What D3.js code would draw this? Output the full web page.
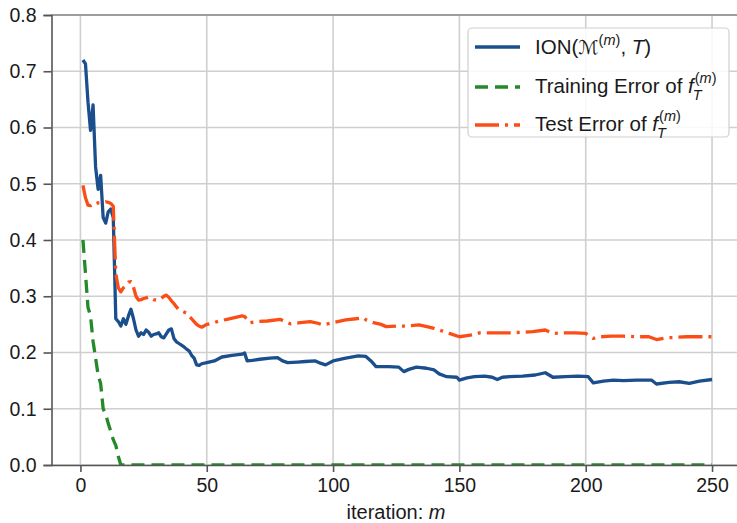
<!DOCTYPE html>
<html><head><meta charset="utf-8">
<script src="https://cdn.jsdelivr.net/npm/d3@7"></script>
<style>
body{margin:0;background:#fff;}
svg{display:block;}
text{font-family:"Liberation Sans",Arial,sans-serif;fill:#1a1a1a;}
</style>
</head><body>
<svg id="c" width="737" height="523"></svg>
<script>
// ---- data ----
const ionIter = [1,2,3,4,5,6,7,8,9,10,11,12,13,14,15,16,17,18,19,20,21,22,23,24,25,26,27,28,29,30,31,32,33,34,35,36,37,38,39,40,41,42,43,44,45,46,47,48,50,53,56,60,64,65,66,68,71,75,78,80,82,86,89,93,95,97,100,105,110,113,115,117,122,126,128,130,133,137,140,142,145,149,150,153,156,160,163,165,167,170,175,180,184,187,192,197,201,203,207,211,215,220,226,228,233,237,241,245,250];
const ionVal = [0.72,0.713,0.645,0.595,0.64,0.53,0.49,0.515,0.44,0.43,0.45,0.455,0.44,0.26,0.255,0.247,0.26,0.25,0.265,0.277,0.26,0.24,0.229,0.235,0.232,0.24,0.236,0.229,0.232,0.233,0.235,0.228,0.226,0.233,0.24,0.242,0.225,0.219,0.216,0.213,0.21,0.206,0.203,0.195,0.19,0.178,0.177,0.18,0.182,0.185,0.192,0.195,0.197,0.199,0.185,0.186,0.188,0.19,0.191,0.185,0.182,0.183,0.184,0.185,0.181,0.178,0.185,0.19,0.194,0.193,0.185,0.175,0.175,0.174,0.166,0.17,0.174,0.172,0.169,0.162,0.157,0.156,0.151,0.155,0.157,0.158,0.156,0.152,0.156,0.157,0.158,0.16,0.164,0.156,0.157,0.158,0.157,0.146,0.149,0.151,0.15,0.151,0.151,0.144,0.147,0.148,0.145,0.149,0.152];

const trainIter = [1,2,3,4,5,6,7,8,9,10,11,12,13,14,15,16,250];
const trainVal = [0.40,0.34,0.28,0.265,0.22,0.19,0.16,0.145,0.10,0.09,0.074,0.06,0.045,0.035,0.015,0.0,0.0];

const testIter = [1,2,3,4,5,6,7,8,9,10,11,12,13,14,15,16,17,18,19,20,21,22,23,24,25,26,27,28,29,30,31,32,33,34,35,36,37,38,39,40,41,42,43,44,45,46,47,48,50,52,55,58,61,64,65,67,70,74,79,81,83,87,91,94,96,100,105,109,112,113,116,119,121,125,128,134,138,140,142,146,150,153,156,158,163,170,175,179,184,187,192,196,200,203,206,210,215,221,225,228,232,236,240,245,250];
const testVal = [0.497,0.475,0.462,0.461,0.465,0.464,0.466,0.466,0.467,0.468,0.467,0.465,0.46,0.34,0.315,0.308,0.315,0.32,0.325,0.326,0.316,0.30,0.293,0.294,0.296,0.297,0.299,0.296,0.294,0.293,0.293,0.296,0.30,0.302,0.298,0.292,0.287,0.281,0.276,0.274,0.272,0.27,0.264,0.26,0.255,0.25,0.247,0.245,0.25,0.252,0.256,0.259,0.262,0.265,0.264,0.253,0.255,0.256,0.259,0.255,0.251,0.253,0.255,0.252,0.249,0.253,0.258,0.26,0.262,0.258,0.253,0.25,0.246,0.247,0.247,0.249,0.245,0.243,0.24,0.234,0.228,0.23,0.232,0.235,0.235,0.235,0.236,0.237,0.24,0.234,0.235,0.235,0.234,0.225,0.228,0.229,0.229,0.228,0.228,0.223,0.226,0.227,0.228,0.228,0.228];

const xTicks = [0,50,100,150,200,250];
const yTicks = [0,0.1,0.2,0.3,0.4,0.5,0.6,0.7,0.8];

// ---- chart ----
const svg = d3.select("#c");
const L = 51.5, T = 15, B = 465, R = 743.5;
const x = d3.scaleLinear().domain([-11.45, 262.45]).range([L, R]);
const y = d3.scaleLinear().domain([0, 0.8]).range([B, T]);

const grid = svg.append("g");
grid.selectAll(".gx").data(xTicks).join("line")
  .attr("x1", d => x(d)).attr("x2", d => x(d)).attr("y1", T).attr("y2", B)
  .attr("stroke", "#cfcfcf").attr("stroke-width", 1.6);
grid.selectAll(".gy").data(yTicks).join("line")
  .attr("x1", L).attr("x2", 737).attr("y1", d => y(d)).attr("y2", d => y(d))
  .attr("stroke", "#cfcfcf").attr("stroke-width", 1.6);

svg.append("defs").append("clipPath").attr("id", "clip")
  .append("rect").attr("x", L).attr("y", T - 5).attr("width", 737 - L).attr("height", B - T + 5);

const plot = svg.append("g").attr("clip-path", "url(#clip)");
function series(xs, vs, color, dash) {
  const pts = xs.map((d, i) => [d, vs[i]]);
  const line = d3.line().x(d => x(d[0])).y(d => y(d[1]));
  plot.append("path").datum(pts).attr("d", line)
    .attr("fill", "none").attr("stroke", color).attr("stroke-width", 3.3)
    .attr("stroke-linejoin", "round")
    .attr("stroke-dasharray", dash || null);
}
const cBlue = "#1b4e8c", cGreen = "#24892a", cOrange = "#fb4e17";
series(ionIter, ionVal, cBlue, null);
series(trainIter, trainVal, cGreen, "13,7");
series(testIter, testVal, cOrange, "24,6,3,6");

// spines
svg.append("line").attr("x1", L).attr("x2", 737).attr("y1", T).attr("y2", T).attr("stroke", "#8a8a8a").attr("stroke-width", 1.4);
const ax = d3.axisBottom(x).tickValues(xTicks).tickFormat(d3.format("d")).tickSize(7).tickPadding(6);
const ay = d3.axisLeft(y).tickValues(yTicks).tickFormat(d3.format(".1f")).tickSize(8).tickPadding(7);
const gx = svg.append("g").attr("transform", `translate(0,${B})`).call(ax);
const gy = svg.append("g").attr("transform", `translate(${L},0)`).call(ay);
[gx, gy].forEach(g => {
  g.select(".domain").attr("stroke", "#555").attr("stroke-width", 1.6);
  g.selectAll(".tick line").attr("stroke", "#555").attr("stroke-width", 1.6);
  g.selectAll(".tick text").attr("font-size", 19.5).attr("fill", "#1a1a1a")
    .style("font-family", '"Liberation Sans",Arial,sans-serif');
});
gx.select(".domain").attr("d", `M${L},0.5H737`);

// x label
const xl = svg.append("text").attr("x", 396).attr("y", 519).attr("text-anchor", "middle").attr("font-size", 20);
xl.append("tspan").text("iteration: ");
xl.append("tspan").attr("font-style", "italic").text("m");

// legend
const lg = svg.append("g");
lg.append("rect").attr("x", 468).attr("y", 28).attr("width", 261).attr("height", 109).attr("rx", 4)
  .attr("fill", "#fff").attr("fill-opacity", 0.85).attr("stroke", "#d0d0d0").attr("stroke-width", 1.2);
const items = [
  {c: cBlue, d: null, y: 47},
  {c: cGreen, d: "13,7", y: 87},
  {c: cOrange, d: "24,6,3,6", y: 125}
];
items.forEach(it => {
  lg.append("line").attr("x1", 475).attr("x2", 520).attr("y1", it.y).attr("y2", it.y)
    .attr("stroke", it.c).attr("stroke-width", 3.3).attr("stroke-dasharray", it.d);
});
const fs = 20.5, ss = 14.5;
// item 1: ION(M^(m), T)
const t1 = lg.append("text").attr("x", 535).attr("y", 54).attr("font-size", fs);
t1.append("tspan").text("ION(");
t1.append("tspan").style("font-family", '"DejaVu Sans",sans-serif').attr("font-size", 19).text("ℳ");
t1.append("tspan").attr("font-size", ss).attr("dy", -9).text("(");
t1.append("tspan").attr("font-size", ss).attr("font-style", "italic").text("m");
t1.append("tspan").attr("font-size", ss).text(")");
t1.append("tspan").attr("dy", 9).text(", ");
t1.append("tspan").attr("font-style", "italic").text("T");
t1.append("tspan").text(")");

function fLabel(prefix, yb) {
  const t = lg.append("text").attr("x", 535).attr("y", yb).attr("font-size", fs);
  t.append("tspan").text(prefix);
  t.append("tspan").attr("font-style", "italic").text("f");
  const w = t.node().getComputedTextLength();
  const sup = lg.append("text").attr("x", 535 + w + 1).attr("y", yb - 10).attr("font-size", ss);
  sup.append("tspan").text("(");
  sup.append("tspan").attr("font-style", "italic").text("m");
  sup.append("tspan").text(")");
  lg.append("text").attr("x", 535 + w - 1).attr("y", yb + 7).attr("font-size", ss)
    .attr("font-style", "italic").text("T");
}
fLabel("Training Error of ", 93);
fLabel("Test Error of ", 131);
</script>
</body></html>
